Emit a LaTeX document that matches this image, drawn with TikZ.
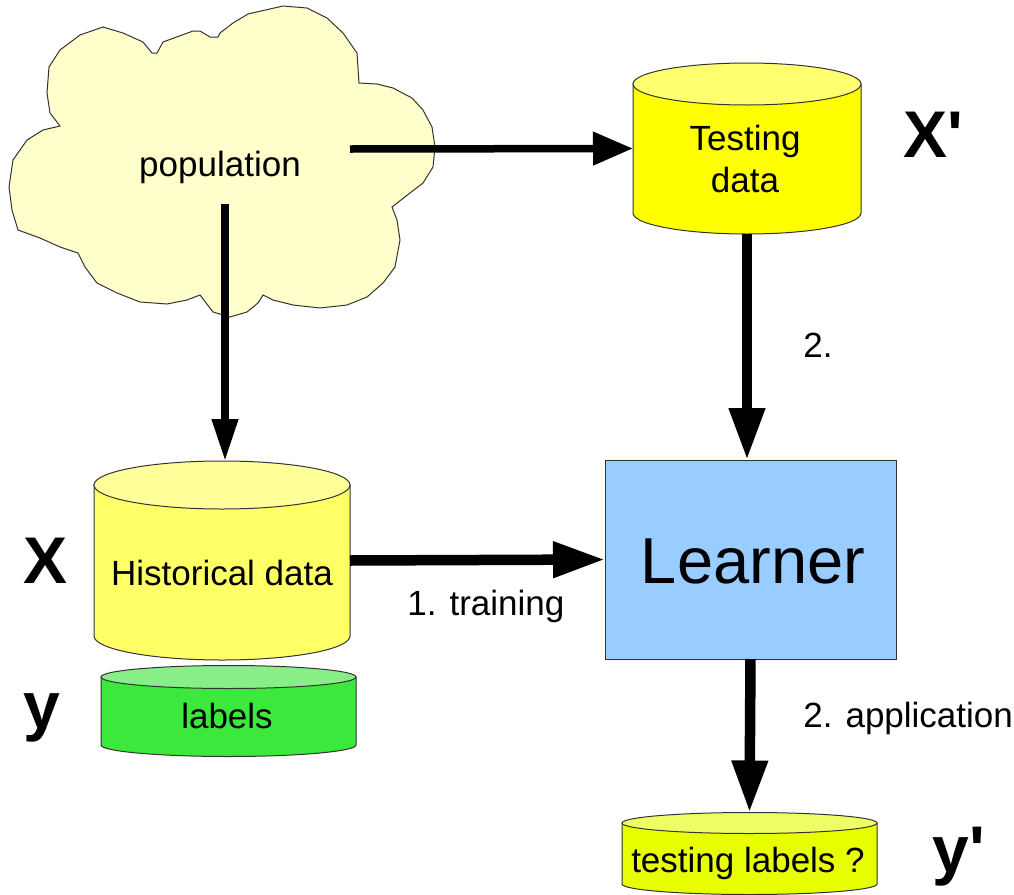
\documentclass[tikz,border=0pt]{standalone}
\usepackage{fontspec}
\setmainfont{Liberation Sans}
\usetikzlibrary{arrows.meta}

\definecolor{cloudfill}{HTML}{FFFFCC}
\definecolor{testside}{HTML}{FFFF00}
\definecolor{testtop}{HTML}{FFFF70}
\definecolor{histside}{HTML}{FFFF66}
\definecolor{histtop}{HTML}{FFFF99}
\definecolor{labside}{HTML}{3BE83B}
\definecolor{labtop}{HTML}{88EE88}
\definecolor{tlabside}{HTML}{E8FF00}
\definecolor{tlabtop}{HTML}{EEFF66}
\definecolor{learnfill}{HTML}{99CCFF}
\definecolor{edge}{HTML}{333333}

\tikzset{
  outline/.style={draw=edge, line width=0.5pt},
  flow/.style={line width=5.25pt, -{Triangle[width=17pt,length=26pt]}},
  thinflow/.style={line width=3.75pt, -{Triangle[width=12.5pt,length=21pt]}},
  sideflow/.style={line width=3.75pt, -{Triangle[width=16pt,length=20pt]}},
  txt/.style={font=\fontsize{17.5}{21}\selectfont, inner sep=0pt, anchor=base},
  note/.style={font=\fontsize{17.5}{21}\selectfont, inner sep=0pt, anchor=base west},
  sym/.style={font=\fontsize{33}{40}\selectfont\bfseries, inner sep=0pt, anchor=base west},
  area/.style={inner sep=0pt, outer sep=0pt},
}

% database drum: left x, right x, top centre y, bottom centre y, y radius, side colour, top colour
\newcommand\dbdrum[7]{%
  \pgfmathsetmacro\drumrx{(#2-#1)/2}%
  \filldraw[outline, fill=#6] (#1,#3) -- (#1,#4)
     arc[start angle=180, end angle=0, x radius=\drumrx, y radius=#5] -- (#2,#3) -- cycle;
  \filldraw[outline, fill=#7] ({(#1+#2)/2},#3) ellipse[x radius=\drumrx, y radius=#5];
}

\begin{document}
\begin{tikzpicture}[x=0.5pt, y=-0.5pt]
\useasboundingbox (0,0) rectangle (1014,895);

% population cloud
\filldraw[outline, fill=cloudfill]
  (9,187) -- (13,160) -- (27,140) -- (43,130) -- (60,126)
  -- (50,113) -- (47,93) -- (49,67) -- (60,50) -- (80,35) -- (103,27) -- (123,33) -- (143,42) -- (152,53) -- (157,53)
  -- (163,42) -- (193,31) -- (200,31) -- (210,37) -- (218,37) -- (220,33) -- (233,23) -- (248,14) -- (283,6) -- (307,8) -- (327,18) -- (343,33) -- (357,53) -- (359,83)
  -- (377,84) -- (393,88) -- (412,98) -- (423,110) -- (432,127) -- (435,147) -- (433,167) -- (423,183) -- (410,193) -- (392,207)
  -- (397,220) -- (400,240) -- (395,267) -- (383,283) -- (367,297) -- (347,305) -- (320,308) -- (293,305) -- (273,300) -- (263,295)
  -- (258,303) -- (247,312) -- (230,317) -- (213,312) -- (200,295)
  -- (187,300) -- (167,304) -- (140,302) -- (117,293) -- (97,283) -- (85,267) -- (78,253)
  -- (60,247) -- (40,238) -- (18,230) -- (12,210) -- cycle;
\node[area, minimum width=213pt, minimum height=155.5pt] (pop) at (222,161.5) {};
\node[txt] (popT) at (220,176) {population};
\coordinate (popR) at (350,149);
\coordinate (popB) at (225,204);

% testing data
\dbdrum{633}{861}{84}{213}{21}{testside}{testtop}
\node[area, minimum width=114pt, minimum height=85.5pt] (test) at (747,148.5) {};
\node[txt] (testA) at (745,150) {Testing};
\node[txt] (testB) at (745,192) {data};

% historical data and its labels
\dbdrum{94}{350}{485}{636}{24}{histside}{histtop}
\node[area, minimum width=128pt, minimum height=99.5pt] (hist) at (222,560.5) {};
\node[txt] (histT) at (222,585) {Historical data};

\dbdrum{101}{356}{677}{745}{11.5}{labside}{labtop}
\node[area, minimum width=127.5pt, minimum height=45.5pt] (lab) at (228.5,711) {};
\node[txt] (labT) at (227,728) {labels};

% testing labels
\dbdrum{622}{877}{823}{884}{10.5}{tlabside}{tlabtop}
\node[area, minimum width=127.5pt, minimum height=41pt] (tlab) at (749.5,853.5) {};
\node[txt] (tlabT) at (748,872) {testing labels ?};

% learner
\node[area, outline, fill=learnfill, minimum width=145.5pt, minimum height=99.5pt] (learn) at (750.5,559.5) {};
\node[inner sep=0pt, anchor=base, font=\fontsize{32.5}{39}\selectfont] (learnT) at (753,583) {Learner};

% symbols
\node[sym] (symX) at (23,583) {X};
\node[sym] (symy) at (23,728) {y};
\node[sym] (symXp) at (903,157) {X\textquotesingle};
\node[sym] (symyp) at (932,872) {y\textquotesingle};

% flow labels
\node[note] (lblTrain) at (407,615) {1. training};
\node[note] (lblTwo) at (803,357) {2.};
\node[note] (lblApp) at (803,727) {2. application};

% connectors
\draw[sideflow] (popR) -- (test.west);
\draw[thinflow] (popB) -- (popB |- hist.north);
\draw[flow] (test.south) -- (test.south |- learn.north);
\draw[flow] (hist.east) -- (learn.west);
\draw[flow] (learn.south) -- (tlab.north);
\end{tikzpicture}
\end{document}
